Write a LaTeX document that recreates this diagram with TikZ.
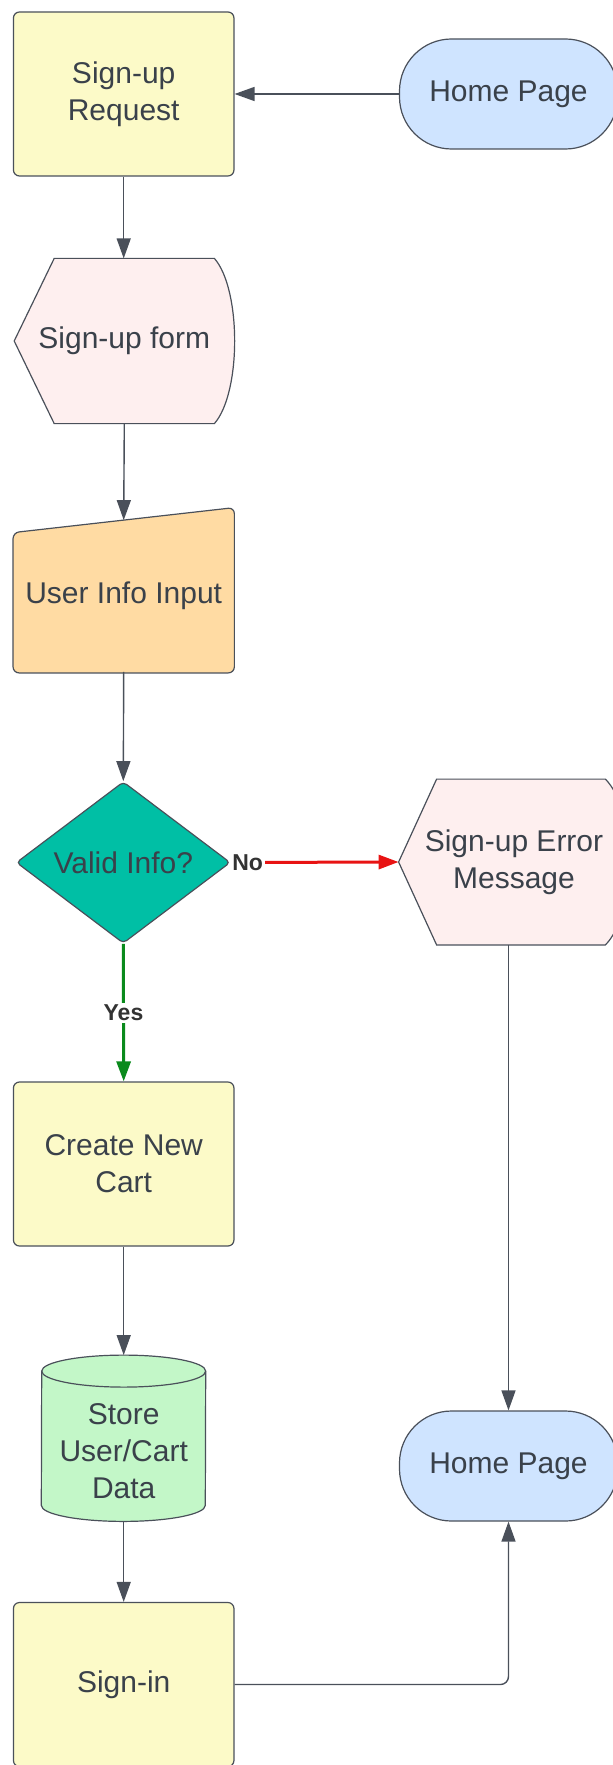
\documentclass[tikz,border=0pt]{standalone}
\usepackage{fontspec}
\setmainfont{Liberation Sans}
\usepackage{xcolor}
\definecolor{inkcolor}{HTML}{3A414A}
\definecolor{edgecolor}{HTML}{4A505A}
\definecolor{stepcolor}{HTML}{FCFAC8}
\definecolor{homecolor}{HTML}{CFE4FF}
\definecolor{formcolor}{HTML}{FEEFEF}
\definecolor{inputcolor}{HTML}{FFDBA3}
\definecolor{decisioncolor}{HTML}{00BFA5}
\definecolor{storecolor}{HTML}{C3F7C8}
\definecolor{nocolor}{HTML}{E81313}
\definecolor{yescolor}{HTML}{0A8A1C}
\usetikzlibrary{shapes.geometric,arrows.meta,calc,backgrounds}

\begin{document}
\begin{tikzpicture}[x=0.5pt, y=0.5pt,
	every node/.style={font=\fontsize{15}{18.5}\selectfont, text=inkcolor, align=center},
	outline/.style={draw=edgecolor, line width=0.6pt},
	stepbox/.style={outline, rectangle, rounded corners=3pt, fill=stepcolor, minimum width=110.25pt, minimum height=82pt},
	pagebox/.style={outline, rectangle, rounded corners=26pt, fill=homecolor, minimum width=109pt, minimum height=55pt},
	area/.style={rectangle, inner sep=0pt},
	flow/.style={draw=edgecolor, line width=0.7pt, -{Triangle[length=10pt, width=7pt]}},
	answer/.style={font=\bfseries\fontsize{11.5}{14}\selectfont, text=black!80, fill=white, inner sep=1pt}
]
	\useasboundingbox (0, 0) rectangle (613, -1765);
	% left column
	\node [stepbox] (request) at (123.7, -94) {Sign-up\\Request};
	\node [area, minimum width=109.7pt, minimum height=82.2pt] (form) at (124.3, -341) {Sign-up form};
	\node [area, minimum width=110.25pt, minimum height=75.5pt] (info) at (123.7, -596) {User Info Input};
	\node [diamond, outline, fill=decisioncolor, rounded corners=2pt, inner sep=0pt, minimum width=107pt, minimum height=80pt] (valid) at (123.3, -862.5) {Valid Info?};
	\node [stepbox] (create) at (123.7, -1164) {Create New\\Cart};
	\node [area, minimum width=82pt, minimum height=69.5pt] (store) at (123.7, -1451.5) {Store\\User/Cart\\Data};
	\coordinate (storetop) at ($(store.north)+(0,26.5)$);
	\node [stepbox] (signin) at (123.7, -1684.5) {Sign-in};
	% right column
	\node [pagebox] (home) at (508.5, -94) {Home Page};
	\node [area, minimum width=115pt, minimum height=82.5pt] (error) at (514, -862) {Sign-up Error\\Message};
	\node [pagebox] (home2) at (508.5, -1466) {Home Page};
	\begin{scope}[on background layer]
		\draw [outline, fill=formcolor] (form.west) -- ($(form.north west)+(40,0)$) -- ($(form.north east)+(-20,0)$) .. controls ($(form.north east)+(7,-31)$) and ($(form.south east)+(7,31)$) .. ($(form.south east)+(-20,0)$) -- ($(form.south west)+(40,0)$) -- cycle;
		\draw [outline, fill=formcolor] (error.west) -- ($(error.north west)+(38,0)$) -- ($(error.north east)+(-24,0)$) .. controls ($(error.north east)+(7,-31)$) and ($(error.south east)+(7,31)$) .. ($(error.south east)+(-24,0)$) -- ($(error.south west)+(38,0)$) -- cycle;
		\draw [outline, fill=inputcolor, rounded corners=3pt] ($(info.south west)+(0,-1)$) -- ($(info.north west)+(0,-12.5)$) -- ($(info.north east)+(0,12.5)$) -- ($(info.south east)+(0,-1)$) -- cycle;
		\draw [outline, fill=storecolor] ($(storetop)+(-82,-16)$) -- ($(store.south west)+(0,16)$) arc [start angle=180, end angle=360, x radius=41pt, y radius=8pt] -- ($(storetop)+(82,-16)$) arc [start angle=0, end angle=180, x radius=41pt, y radius=8pt] -- cycle;
		\draw [outline] ($(storetop)+(-82,-16)$) arc [start angle=180, end angle=360, x radius=41pt, y radius=8pt];
	\end{scope}
	% connectors
	\draw [flow] (home) -- (request);
	\draw [flow] (request) -- (form.north -| request);
	\draw [flow] (form.south) -- (info.north);
	\draw [flow] (info.south) -- (valid.north);
	\draw [flow, draw=nocolor, line width=1.5pt] (valid.east) -- node [answer, pos=0.1] {No} (error.west);
	\draw [flow, draw=yescolor, line width=1.5pt] (valid.south) -- node [answer] {Yes} (create.north);
	\draw [flow] (create) -- (storetop);
	\draw [flow] (store) -- (signin);
	\draw [flow] (error.south -| home2) -- (home2);
	\draw [flow, rounded corners=4pt] (signin.east) -| (home2.south);
\end{tikzpicture}
\end{document}
